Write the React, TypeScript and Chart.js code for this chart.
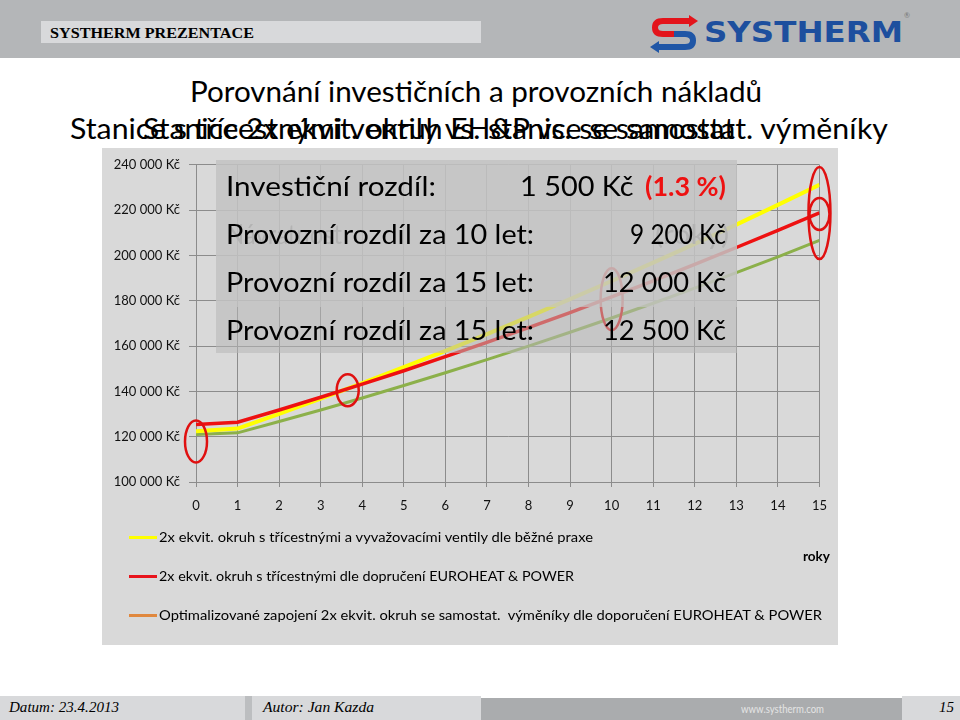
import React, { useEffect, useLayoutEffect, useRef } from 'react';
import { Chart, registerables } from 'chart.js';

Chart.register(...registerables);

// ---------- data ----------
const years = [0, 1, 2, 3, 4, 5, 6, 7, 8, 9, 10, 11, 12, 13, 14, 15];
const seriesLabels = [
  '2x ekvit. okruh s třícestnými a vyvažovacími ventily dle běžné praxe',
  '2x ekvit. okruh s třícestnými dle dopručení EUROHEAT & POWER',
  'Optimalizované zapojení 2x ekvit. okruh se samostat.  výměníky dle doporučení EUROHEAT & POWER',
];
const yellowValues = [122400, 123600, 130100, 136800, 143600, 150700, 157900, 165300, 172900, 180700, 188700, 196800, 205100, 213600, 222300, 231200];
const redValues = [125400, 126400, 131800, 137400, 143200, 149100, 155300, 161600, 168100, 174800, 181700, 188800, 196000, 203500, 211100, 218800];
const greenValues = [121000, 121700, 126700, 131800, 137100, 142600, 148200, 154000, 160000, 166100, 172400, 178900, 185600, 192400, 199400, 206600];
const lineColors = ['#ffff00', '#ee1111', '#8cb04a'];
const legendColors = ['#ffff00', '#e8141c', '#e0883e'];
const yMin = 100000;
const yMax = 240000;
const yStep = 20000;
const xAxisTitle = 'roky';
// highlighted points (year, value)
const markYears = [0, 3.65, 10, 15, 15];
const markValues = [117900, 140500, 180700, 218700, 218300];

const titleLine1 = 'Porovnání investičních a provozních nákladů';
const titleLine2a = 'Stanice s třícestnými ventily vs. stanice se samostat. výměníky';
const titleLine2b = 'Stanice 2x ekvit. okruh EH&P vs. se samostat';

const boxLabels = ['Investiční rozdíl:', 'Provozní rozdíl za 10 let:', 'Provozní rozdíl za 15 let:', 'Provozní rozdíl za 15 let:'];
const boxValues = ['1 500 Kč ', '9 200 Kč', '12 000 Kč', '12 500 Kč'];
const boxPercent = '(1.3 %)';

const fmtKc = (v: number) => `${Math.round(v / 1000)} 000 Kč`;

// ---------- helpers ----------
function Fit(props: {
  x: number; cy: number; w: number; size: number; text: string;
  family?: string; weight?: number; color?: string; italic?: boolean; z?: number;
}) {
  const { x, cy, w, size, text, family = 'Lato', weight = 400, color = '#000', italic = false, z = 5 } = props;
  const ref = useRef<HTMLSpanElement>(null);
  useLayoutEffect(() => {
    const el = ref.current;
    if (!el) return;
    el.style.transform = 'none';
    const m = el.getBoundingClientRect().width;
    if (m > 0) el.style.transform = `scaleX(${w / m})`;
  });
  return (
    <span
      ref={ref}
      style={{
        position: 'absolute', left: x, top: cy - size * 0.6, fontFamily: family, fontSize: size,
        fontWeight: weight, fontStyle: italic ? 'italic' : 'normal', color, whiteSpace: 'pre',
        lineHeight: `${size * 1.2}px`, transformOrigin: '0 50%', zIndex: z,
      }}
    >
      {text}
    </span>
  );
}

const box = (l: number, t: number, w: number, h: number, bg: string, z = 1): React.CSSProperties => ({
  position: 'absolute', left: l, top: t, width: w, height: h, background: bg, zIndex: z,
});

const ellipsePlugin = {
  id: 'marks',
  afterDatasetsDraw(chart: any) {
    const { ctx, scales } = chart;
    const radii = [[11, 21], [11, 16], [11, 31], [11, 46], [10, 16]];
    ctx.save();
    ctx.strokeStyle = '#e01010';
    ctx.lineWidth = 2.5;
    markYears.forEach((yr, i) => {
      const px = scales.x.getPixelForValue(yr);
      const py = scales.y.getPixelForValue(markValues[i]);
      ctx.beginPath();
      ctx.ellipse(px, py, radii[i][0], radii[i][1], 0, 0, Math.PI * 2);
      ctx.stroke();
    });
    ctx.restore();
  },
};

function CostChart() {
  const ref = useRef<HTMLCanvasElement>(null);
  useEffect(() => {
    if (!ref.current) return;
    const mk = (vals: number[]) => years.map((x, i) => ({ x, y: vals[i] }));
    const chart = new Chart(ref.current, {
      type: 'line',
      data: {
        datasets: [
          { label: seriesLabels[1], data: mk(redValues), borderColor: lineColors[1], borderWidth: 3.5, pointRadius: 0, order: 0 },
          { label: seriesLabels[0], data: mk(yellowValues), borderColor: lineColors[0], borderWidth: 4, pointRadius: 0, order: 1 },
          { label: seriesLabels[2], data: mk(greenValues), borderColor: lineColors[2], borderWidth: 3, pointRadius: 0, order: 2 },
        ],
      },
      options: {
        animation: false,
        responsive: false,
        maintainAspectRatio: false,
        layout: { padding: { left: 0, right: 15, top: 12, bottom: 133 } },
        plugins: { legend: { display: false }, tooltip: { enabled: false } },
        scales: {
          x: {
            type: 'linear', min: 0, max: 15,
            ticks: { stepSize: 1, autoSkip: false, maxRotation: 0, color: '#111', font: { family: 'Lato', size: 13 }, padding: 11 },
            grid: { color: '#8c8c8c', tickLength: 5, lineWidth: 1 },
            border: { color: '#8c8c8c' },
            afterFit: (s: any) => { s.height = 30; },
          },
          y: {
            min: yMin, max: yMax,
            ticks: { stepSize: yStep, color: '#111', font: { family: 'Lato', size: 13 }, padding: 9, callback: (v: any) => fmtKc(Number(v)) },
            grid: { color: '#8c8c8c', tickLength: 7, lineWidth: 1 },
            border: { color: '#8c8c8c' },
            afterFit: (s: any) => { s.width = 94; },
          },
        },
      } as any,
      plugins: [ellipsePlugin],
    });
    return () => chart.destroy();
  }, []);
  return <canvas ref={ref} width={736} height={497} style={{ position: 'absolute', left: 102, top: 148, zIndex: 1 }} />;
}

function Logo() {
  return (
    <svg width={52} height={40} viewBox="0 0 52 40" style={{ position: 'absolute', left: 648, top: 14 }}>
      <path d="M42 7 L15 7 Q7 7 7 13.5 Q7 20 15 20 L26 20" fill="none" stroke="#e3141b" strokeWidth={6} />
      <path d="M41 1 L50 7 L41 13 Z" fill="#e3141b" />
      <path d="M26 20 L37 20 Q45 20 45 26.5 Q45 33 37 33 L10 33" fill="none" stroke="#1f56a6" strokeWidth={6} />
      <path d="M11 27 L2 33 L11 39 Z" fill="#1f56a6" />
    </svg>
  );
}

export default function App() {
  const rowsY = [187, 235, 283, 331];
  const labelW = [210, 308, 308, 308];
  const valX = [520, 630, 603, 603];
  const valW = [121, 96, 123, 123];
  return (
    <div style={{ position: 'absolute', left: 0, top: 0, width: 960, height: 720, background: '#fff', overflow: 'hidden', fontFamily: 'Lato' }}>
      {/* header */}
      <div style={box(0, 0, 960, 58, '#b4b6b8', 0)} />
      <div style={box(41, 21, 440, 22, '#d8d9db', 1)} />
      <Fit x={50} cy={33} w={204} size={15} text="SYSTHERM PREZENTACE" family="Liberation Serif" weight={700} />
      <Logo />
      <Fit x={704} cy={33} w={199} size={28} text="SYSTHERM" family="DejaVu Sans" weight={700} color="#1d4f9e" />
      <Fit x={904} cy={16} w={6} size={8} text="®" color="#777" />

      {/* titles */}
      <Fit x={190} cy={92} w={572} size={28} text={titleLine1} />
      <Fit x={70} cy={129} w={818} size={28} text={titleLine2a} />
      <Fit x={143} cy={129} w={592} size={28} text={titleLine2b} />

      {/* chart */}
      <div style={box(102, 148, 736, 497, '#d9d9d9', 0)} />
      <CostChart />

      {/* ghost text under the overlay */}
      <Fit x={226} cy={235} w={116} size={26} text="Návratnost" color="#555" z={2} />
      <Fit x={655} cy={235} w={74} size={26} text="(roky)" color="#555" z={2} />

      {/* overlay boxes */}
      <div style={box(216, 160, 521, 147, 'rgba(194,194,194,0.86)', 3)} />
      <div style={box(216, 307, 521, 46, 'rgba(182,182,182,0.55)', 3)} />
      {rowsY.map((cy, i) => (
        <React.Fragment key={i}>
          <Fit x={226} cy={cy} w={labelW[i]} size={26} text={boxLabels[i]} />
          <Fit x={valX[i]} cy={cy} w={valW[i]} size={26} text={boxValues[i]} />
        </React.Fragment>
      ))}
      <Fit x={645} cy={187} w={81} size={26} text={boxPercent} weight={700} color="#ee1111" />

      {/* legend */}
      {seriesLabels.map((t, i) => (
        <React.Fragment key={i}>
          <div style={box(129, 536 + i * 39, 28, 3, legendColors[i], 5)} />
          <Fit x={159} cy={537 + i * 39} w={[434, 415, 663][i]} size={14} text={t} />
        </React.Fragment>
      ))}
      <Fit x={803} cy={556} w={27} size={14} text={xAxisTitle} weight={700} />

      {/* footer */}
      <div style={box(0, 696, 245, 24, '#d8d9db', 0)} />
      <div style={box(245, 696, 7, 24, '#bcbec0', 0)} />
      <div style={box(252, 696, 229, 24, '#d8d9db', 0)} />
      <div style={box(481, 698, 421, 22, '#aaacae', 0)} />
      <div style={box(902, 696, 58, 24, '#d8d9db', 0)} />
      <Fit x={9} cy={708} w={110} size={14} text="Datum: 23.4.2013" family="Liberation Serif" italic />
      <Fit x={263} cy={708} w={111} size={14} text="Autor: Jan Kazda" family="Liberation Serif" italic />
      <Fit x={741} cy={709} w={83} size={12} text="www.systherm.com" color="#e4e4e4" />
      <Fit x={939} cy={708} w={15} size={14} text="15" family="Liberation Serif" italic />
    </div>
  );
}
